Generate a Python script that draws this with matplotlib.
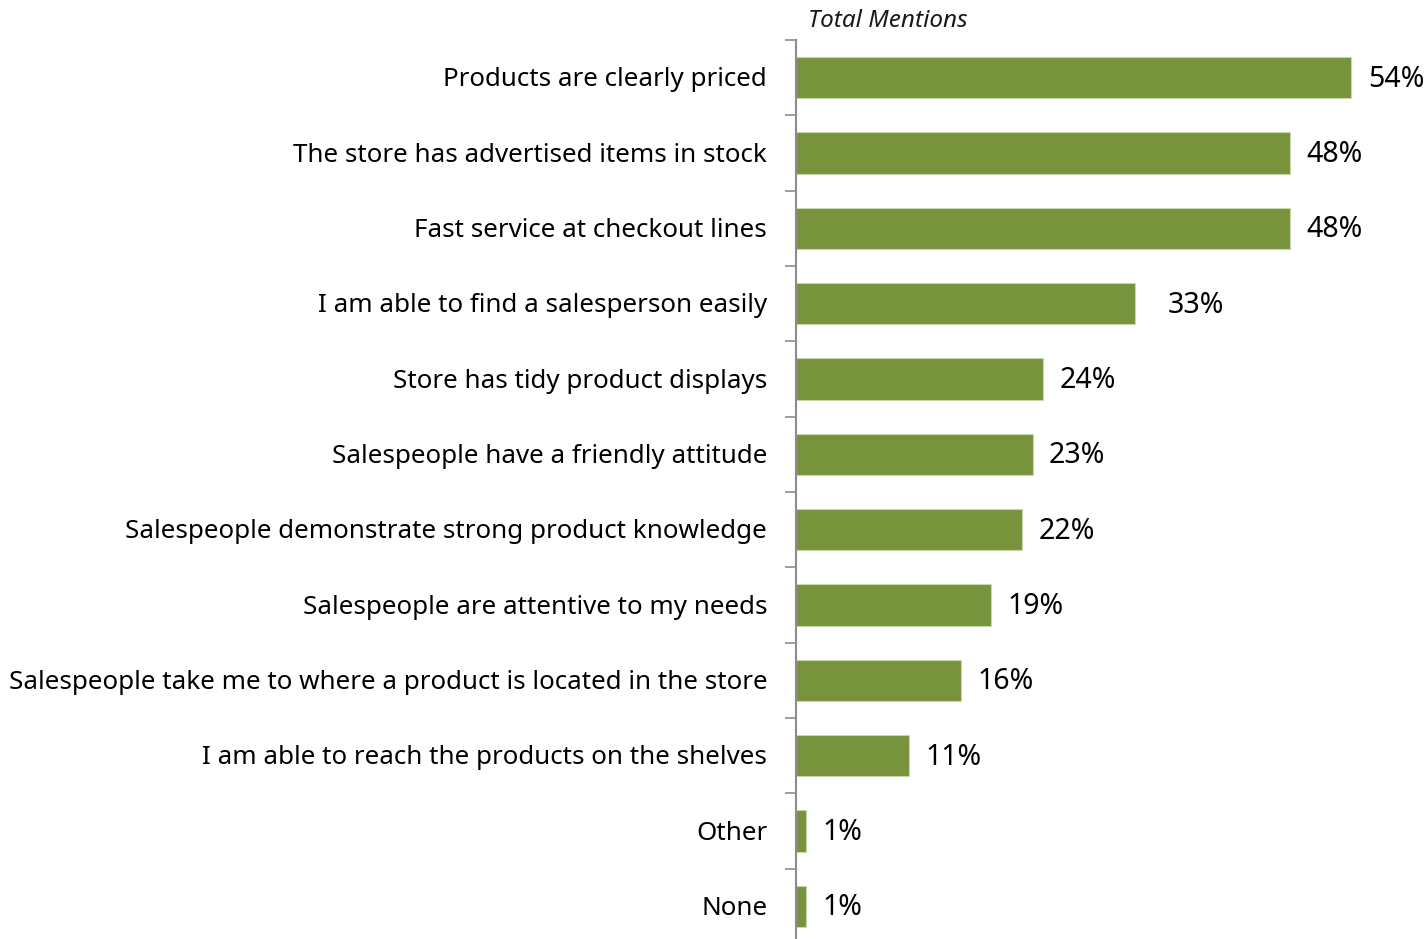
import matplotlib
matplotlib.use("Agg")
import matplotlib.pyplot as plt

# Store attributes ranked by total mentions
categories = [
    "Products are clearly priced",
    "The store has advertised items in stock",
    "Fast service at checkout lines",
    "I am able to find a salesperson easily",
    "Store has tidy product displays",
    "Salespeople have a friendly attitude",
    "Salespeople demonstrate strong product knowledge",
    "Salespeople are attentive to my needs",
    "Salespeople take me to where a product is located in the store",
    "I am able to reach the products on the shelves",
    "Other",
    "None",
]
values = [54, 48, 48, 33, 24, 23, 22, 19, 16, 11, 1, 1]

plt.rcParams['font.family'] = ['Noto Sans', 'DejaVu Sans']

fig = plt.figure(figsize=(14.28, 9.39), dpi=100)
W, H = 1428, 939
ax = fig.add_axes([796 / W, (939 - 944) / H, 617 / W, 904 / H])

ypos = list(range(len(categories)))
ax.barh(ypos, values, height=0.55, color="#77933C", edgecolor="#c9d7ad", linewidth=0.8)

ax.set_xlim(0, 60)
ax.set_ylim(len(categories) - 0.5, -0.5)

# category labels, right aligned left of the axis
for y, name in zip(ypos, categories):
    ax.text(-2.8, y + 0.03, name, ha="right", va="center", fontsize=18.7, color="black")

# value labels just past each bar (the 33% one sits a bit further out)
for y, v in zip(ypos, values):
    pad = 3.1 if v == 33 else 1.6
    ax.text(v + pad, y + 0.02, f"{v}%", ha="left", va="center", fontsize=20.5,
            color="black", clip_on=False)

# ticks between categories
ax.set_yticks([y - 0.5 for y in ypos] + [len(categories) - 0.5])
ax.set_yticklabels([])
ax.tick_params(axis="y", length=8, width=1.2, color="#8c8c8c")
ax.set_xticks([])

for side in ["top", "right", "bottom"]:
    ax.spines[side].set_visible(False)
ax.spines["left"].set_color("#8c8c8c")
ax.spines["left"].set_linewidth(1.5)

fig.text(808 / W, 1 - 21 / H, "Total Mentions", ha="left", va="center",
         fontsize=17.5, style="italic", color="#1a1a1a")

fig.savefig("out.png", dpi=100)
